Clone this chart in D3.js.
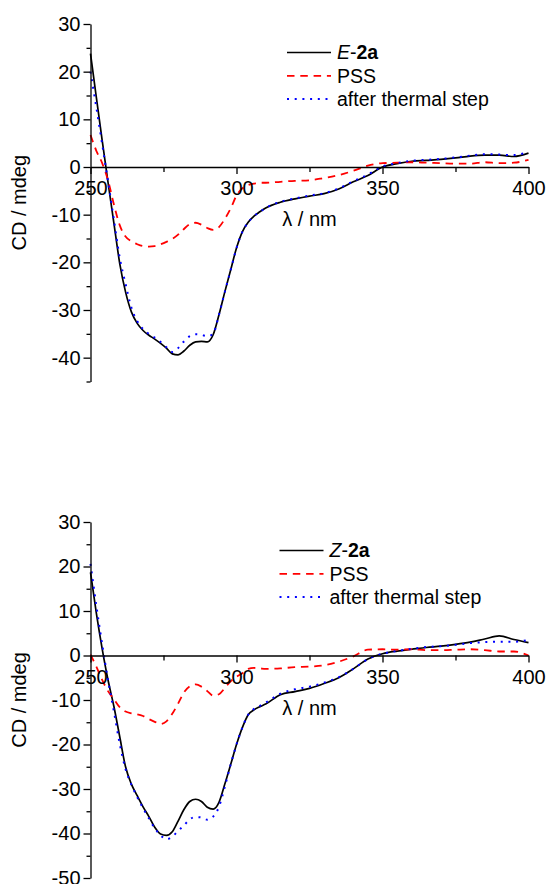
<!DOCTYPE html>
<html>
<head>
<meta charset="utf-8">
<script src="https://cdn.jsdelivr.net/npm/d3@7"></script>
<style>
    body { margin: 0; background: #fff; }
    text { font-family: "Liberation Sans", Arial, sans-serif; }
</style>
</head>
<body>
<div id="chart"></div>
<script>
// Wavelength grid (nm) shared by all curves
let wl = [250, 252, 254, 256, 258, 260, 262, 264, 266, 268, 270, 272, 274, 276, 278, 280,
    282, 284, 286, 288, 290, 292, 294, 296, 298, 300, 302, 304, 306, 308, 310, 315, 320,
    325, 330, 335, 340, 345, 350, 355, 360, 365, 370, 375, 380, 385, 390, 395, 400];

// Top panel: E-2a
let topE = [23.8, 14.6, 5.6, -3.2, -11.7, -20.2, -26.2, -30.4, -32.8, -34.3, -35.3, -36.1, -37.0, -38.0, -39.2, -39.4,
    -38.6, -37.4, -36.7, -36.6, -36.7, -35.2, -31.0, -26.2, -21.6, -17.0, -13.6, -11.6, -10.3, -9.4, -8.6, -7.4, -6.7,
    -6.1, -5.6, -4.6, -3.1, -1.8, 0.0, 0.7, 1.2, 1.4, 1.6, 1.9, 2.3, 2.5, 2.5, 2.2, 2.9];
let topPss = [6.7, 3.4, 0.8, -2.8, -7.8, -12.2, -14.6, -15.6, -16.2, -16.6, -16.7, -16.6, -16.2, -15.7, -15.1, -14.2,
    -13.0, -12.0, -11.7, -12.1, -12.8, -13.2, -12.6, -10.9, -8.7, -6.0, -4.5, -3.8, -3.5, -3.3, -3.3, -3.1, -2.9,
    -2.8, -2.3, -1.7, -0.8, 0.3, 0.8, 0.9, 1.0, 0.9, 0.8, 0.7, 0.7, 1.0, 0.8, 0.9, 1.5];
let topThermal = [20.0, 12.5, 4.8, -3.0, -11.0, -19.0, -24.5, -29.5, -32.3, -34.0, -35.0, -35.8, -36.7, -37.8, -38.8, -38.0,
    -36.6, -35.5, -35.1, -35.2, -35.5, -35.0, -31.0, -26.2, -21.6, -17.0, -13.6, -11.6, -10.3, -9.4, -8.6, -7.3, -6.6,
    -6.0, -5.5, -4.5, -3.0, -1.6, 0.1, 0.8, 1.3, 1.5, 1.7, 2.0, 2.4, 2.7, 2.6, 2.5, 3.2];

// Bottom panel: Z-2a
let botZ = [18.7, 9.5, 1.5, -5.5, -11.4, -18.2, -25.0, -28.9, -31.5, -34.0, -36.2, -38.6, -40.1, -40.4, -39.6, -37.2,
    -34.6, -32.8, -32.3, -32.8, -34.1, -34.5, -33.0, -28.9, -24.5, -20.0, -16.2, -13.3, -12.2, -11.5, -10.9, -8.8, -8.1,
    -7.4, -6.3, -5.0, -3.0, -0.8, 0.4, 1.0, 1.4, 1.8, 2.1, 2.5, 3.0, 3.7, 4.4, 3.6, 2.9];
let botPss = [0.2, -2.5, -5.5, -8.0, -9.8, -11.6, -12.6, -13.0, -13.2, -13.6, -14.3, -14.9, -15.4, -14.8, -13.1, -10.8,
    -8.3, -6.9, -6.5, -7.0, -8.0, -9.0, -8.7, -7.3, -5.8, -4.8, -4.0, -3.0, -2.8, -2.9, -3.0, -2.9, -2.6,
    -2.5, -2.2, -1.4, -0.2, 1.3, 1.4, 1.3, 1.4, 1.2, 1.2, 1.3, 1.4, 1.2, 0.9, 0.9, 0.0];
let botThermal = [20.6, 11.2, 2.5, -5.5, -12.5, -19.8, -25.5, -29.0, -31.8, -34.3, -36.6, -38.8, -40.4, -41.3, -40.7, -39.4,
    -38.2, -36.8, -36.3, -36.4, -36.9, -36.2, -34.0, -29.5, -24.5, -20.0, -16.2, -13.3, -12.0, -11.3, -10.6, -8.6, -7.6,
    -7.0, -6.1, -4.9, -3.0, -0.8, 0.4, 1.0, 1.5, 1.9, 2.1, 2.4, 2.8, 3.0, 3.1, 3.1, 3.5];

// Tick values
let xMajor = [250, 300, 350, 400];
let xMinor = [275, 325, 375];
let topYMajor = [30, 20, 10, 0, -10, -20, -30, -40];
let topYMinor = [25, 15, 5, -5, -15, -25, -35, -45];
let botYMajor = [30, 20, 10, 0, -10, -20, -30, -40, -50];
let botYMinor = [25, 15, 5, -5, -15, -25, -35, -45];

let legendNames = ['PSS', 'after thermal step'];

let chart_width = 548;
let chart_height = 884;

let svg = d3.select('#chart')
    .append('svg')
    .attr('width', chart_width)
    .attr('height', chart_height);

let xScale = d3.scaleLinear()
    .domain([250, 400])
    .range([90.5, 528.5]);

function drawPanel(p) {
    let yScale = d3.scaleLinear()
        .domain(p.domain)
        .range(p.range);

    let g = svg.append('g');

    // Curves: black, red dashed, blue dotted
    let styles = [
        { vals: p.main, color: '#000', width: 1.7, dash: null },
        { vals: p.pss, color: '#ff0000', width: 1.8, dash: '7.5,5.8' },
        { vals: p.thermal, color: '#0000ff', width: 2, dash: '2,5.7' }
    ];

    let line = d3.line()
        .x(function(d) { return xScale(d[0]); })
        .y(function(d) { return yScale(d[1]); })
        .curve(d3.curveMonotoneX);

    styles.forEach(function(s) {
        g.append('path')
            .datum(wl.map(function(w, i) { return [w, s.vals[i]]; }))
            .attr('fill', 'none')
            .attr('stroke', s.color)
            .attr('stroke-width', s.width)
            .attr('stroke-dasharray', s.dash)
            .attr('d', line);
    });

    // x axis sits on y = 0
    let xAxis = g.append('g')
        .attr('transform', 'translate(0,' + yScale(0) + ')')
        .call(d3.axisBottom(xScale).tickValues(xMajor).tickSize(7).tickSizeOuter(0).tickPadding(7).tickFormat(d3.format('d')));
    g.append('g')
        .attr('transform', 'translate(0,' + yScale(0) + ')')
        .call(d3.axisBottom(xScale).tickValues(xMinor).tickSize(5).tickSizeOuter(0).tickFormat(''))
        .select('.domain').remove();

    // y axis
    let yAxis = g.append('g')
        .attr('transform', 'translate(' + xScale(250) + ',0)')
        .call(d3.axisLeft(yScale).tickValues(p.yMajor).tickSize(7).tickSizeOuter(0).tickPadding(3).tickFormat(d3.format('d')));
    g.append('g')
        .attr('transform', 'translate(' + xScale(250) + ',0)')
        .call(d3.axisLeft(yScale).tickValues(p.yMinor).tickSize(4).tickSizeOuter(0).tickFormat(''))
        .select('.domain').remove();

    g.selectAll('.tick text')
        .attr('font-size', 20)
        .attr('font-family', '"Liberation Sans", Arial, sans-serif')
        .attr('fill', '#000')
        .text(function() { return d3.select(this).text().replace('\u2212', '-'); });
    g.selectAll('.domain, .tick line')
        .attr('stroke', '#000')
        .attr('stroke-width', 1.3);

    // Axis titles
    g.append('text')
        .attr('x', 309.5)
        .attr('y', yScale(0) + 59)
        .attr('text-anchor', 'middle')
        .attr('font-size', 20)
        .text('\u03bb / nm');

    g.append('text')
        .attr('transform', 'translate(26,' + (p.range[0] + p.range[1]) / 2 + ') rotate(-90)')
        .attr('text-anchor', 'middle')
        .attr('font-size', 20)
        .text('CD / mdeg');

    // Legend
    let leg = g.append('g')
        .attr('transform', 'translate(' + p.legendX + ',' + (p.range[1] + 28.5) + ')');

    styles.forEach(function(s, i) {
        leg.append('line')
            .attr('x1', 0)
            .attr('x2', 44)
            .attr('y1', i * 23.3)
            .attr('y2', i * 23.3)
            .attr('stroke', s.color)
            .attr('stroke-width', s.width)
            .attr('stroke-dasharray', s.dash);
    });

    let t0 = leg.append('text')
        .attr('x', 50)
        .attr('y', 0)
        .attr('dy', '0.35em')
        .attr('font-size', 19.5);
    t0.append('tspan').attr('font-style', 'italic').text(p.label);
    t0.append('tspan').text('-');
    t0.append('tspan').attr('font-weight', 'bold').text('2a');

    legendNames.forEach(function(name, i) {
        leg.append('text')
            .attr('x', 50)
            .attr('y', (i + 1) * 23.3)
            .attr('dy', '0.35em')
            .attr('font-size', 19.5)
            .text(name);
    });
}

drawPanel({
    domain: [-45, 30], range: [381.5, 24],
    main: topE, pss: topPss, thermal: topThermal,
    yMajor: topYMajor, yMinor: topYMinor,
    label: 'E', legendX: 287
});

drawPanel({
    domain: [-50, 30], range: [878, 522],
    main: botZ, pss: botPss, thermal: botThermal,
    yMajor: botYMajor, yMinor: botYMinor,
    label: 'Z', legendX: 279.5
});
</script>
</body>
</html>
